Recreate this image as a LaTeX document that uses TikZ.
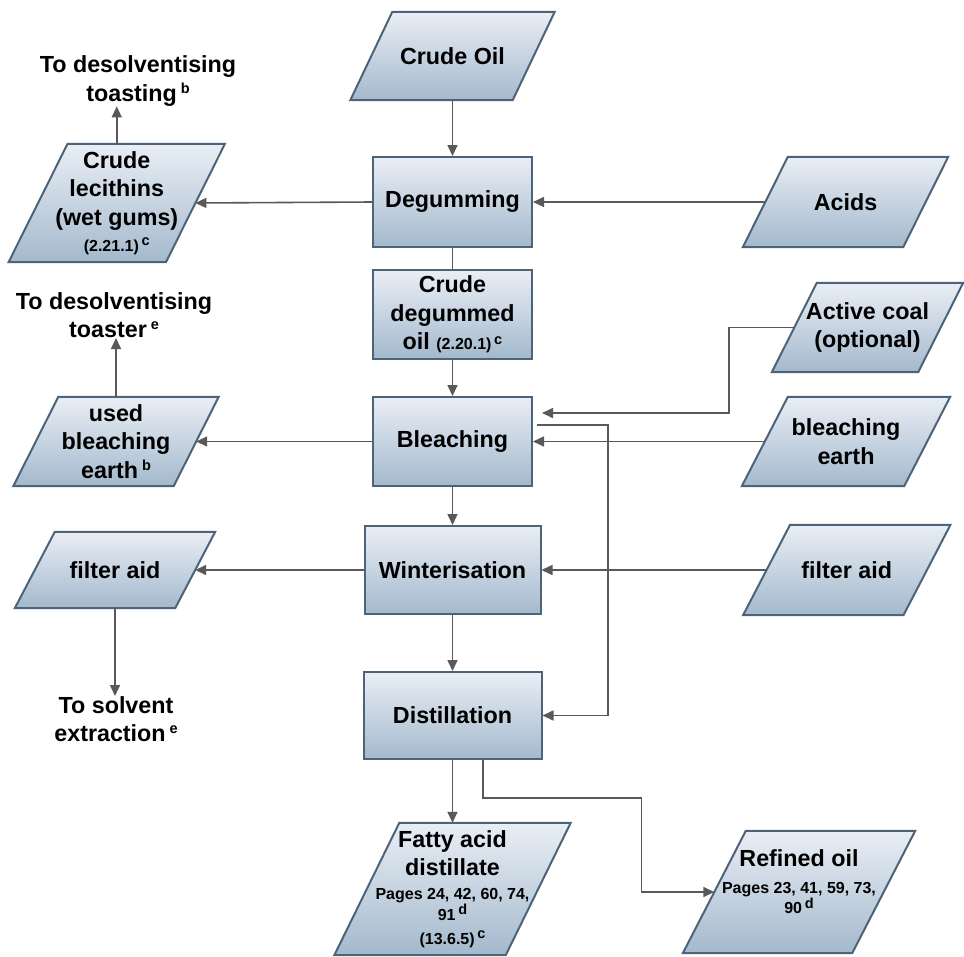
\documentclass[tikz,border=0pt]{standalone}
\usepackage{fontspec}
\setmainfont{Liberation Sans}
\usetikzlibrary{arrows.meta,calc,backgrounds}

\definecolor{boxtop}{HTML}{E9EEF5}
\definecolor{boxbot}{HTML}{A4B9CD}
\definecolor{boxline}{HTML}{4D6378}
\definecolor{wire}{HTML}{595959}

% raised footnote letter and the smaller reference text
\newcommand{\sups}[1]{\raisebox{0.34em}{\fontsize{14.5}{14.5}\selectfont #1}}
\newcommand{\smalltxt}{\fontsize{16}{21}\selectfont}

\tikzset{
  base/.style={font=\fontsize{23.3}{28.5}\selectfont\bfseries, align=center, inner sep=0pt, text=black},
  proc/.style={base, draw=boxline, line width=2pt, top color=boxtop, bottom color=boxbot},
  iotext/.style={base},
  iofill/.style={draw=boxline, line width=2pt, top color=boxtop, bottom color=boxbot, line join=miter},
  lbl/.style={base},
  arr/.style={draw=wire, line width=1.6pt, -{Triangle[length=11pt,width=10pt]}},
  wireline/.style={draw=wire, line width=1.6pt},
}

% input/output parallelogram: [node options] name, centre, width, height, slant, text
\newcommand{\iobox}[7][]{%
  \node[iotext, minimum width=#4pt, minimum height=#5pt, #1] (#2) at (#3) {#7};
  \begin{pgfonlayer}{background}
    \path[iofill] ($(#2.north west)+(#6/2,0)$) -- ($(#2.north east)+(#6/2,0)$)
      -- ($(#2.south east)-(#6/2,0)$) -- ($(#2.south west)-(#6/2,0)$) -- cycle;
  \end{pgfonlayer}}

\begin{document}
\begin{tikzpicture}[x=1pt,y=-1pt]
\useasboundingbox (0,0) rectangle (964,956);

% main process column
\iobox{crude}{452.5,56}{162}{88}{42}{Crude Oil}
\node[proc, minimum width=159pt, minimum height=90pt] (degum) at (452.5,202) {Degumming};
\node[proc, minimum width=159pt, minimum height=89pt] (cdo) at (452.5,314.5)
  {Crude\\degummed\\oil {\smalltxt(2.20.1)\,\sups{c}}};
\node[proc, minimum width=159pt, minimum height=89pt] (bleach) at (452.5,441.5) {Bleaching};
\node[proc, minimum width=176pt, minimum height=88pt] (winter) at (452.5,570) {Winterisation};
\node[proc, minimum width=178pt, minimum height=87pt] (distill) at (452.5,715.5) {Distillation};

% inputs on the right
\iobox{acids}{845.5,202}{160}{90}{45}{Acids}
\iobox{coal}{867.5,327.5}{146}{89}{45}{Active coal\\(optional)}
\iobox{bearth}{846,441.5}{162}{89}{46}{bleaching\\earth}
\iobox{filterR}{846.75,570}{160}{90}{47}{filter aid}

% by-products on the left
\iobox{lecith}{116.75,203}{157}{118}{59}{Crude\\lecithins\\(wet gums)\\[-2.5pt]{\smalltxt(2.21.1)\,\sups{c}}}
\iobox{used}{116,441.5}{160}{89}{45}{used\\bleaching\\earth\,\sups{b}}
\iobox{filterL}{115,570}{160}{76}{40}{filter aid}

\node[lbl] (toast1) at (138,81) {To desolventising\\toasting\,\sups{b}};
\node[lbl] (toast2) at (114,315) {To desolventising\\toaster\,\sups{e}};
\node[lbl] (solv) at (116,719) {To solvent\\extraction\,\sups{e}};

% products
\iobox{fatty}{452.5,889}{171}{132}{65}{Fatty acid\\distillate\\[-4.5pt]{\smalltxt Pages 24, 42, 60, 74,}\\[-8pt]{\smalltxt 91\,\sups{d}}\\[-4.5pt]{\smalltxt (13.6.5)\,\sups{c}}}
\iobox{refined}{799,892}{169}{122}{63}{Refined oil\\[-1.5pt]{\smalltxt Pages 23, 41, 59, 73,}\\[-8.5pt]{\smalltxt 90\,\sups{d}}\\[-8pt]\mbox{}}

% main flow
\draw[arr] (crude.south) -- (degum.north);
\draw[wireline] (degum.south) -- (cdo.north);
\draw[arr] (cdo.south) -- (bleach.north);
\draw[arr] (bleach.south) -- (winter.north);
\draw[arr] (winter.south) -- (distill.north);
\draw[arr] (distill.south) -- (fatty.north);
\draw[arr] ([xshift=30.5pt]distill.south) -- ++(0,38) -| ([xshift=-73pt]refined.west) -- (refined.west);

% inputs
\draw[arr] (acids.west) -- (degum.east);
\coordinate (coalin) at (542,413);
\draw[arr] (coal.west) -- ++(-65.5,0) |- (coalin);
\draw[arr] (bearth.west) -- (bleach.east);
\draw[arr] (filterR.west) -- (winter.east);

% bypass from bleaching to distillation
\coordinate (loopout) at (537,425);
\coordinate (loopturn) at (608,425);
\draw[arr] (loopout) -- (loopturn) |- (distill.east);

% outputs on the left
\draw[arr] (degum.west) -- (lecith.east);
\draw[arr] (lecith.north) -- (lecith.north |- toast1.south);
\draw[arr] (bleach.west) -- (used.east);
\draw[arr] (used.north) -- (used.north |- toast2.south);
\draw[arr] (winter.west) -- (filterL.east);
\draw[arr] (filterL.south) -- (filterL.south |- solv.north);
\end{tikzpicture}
\end{document}
